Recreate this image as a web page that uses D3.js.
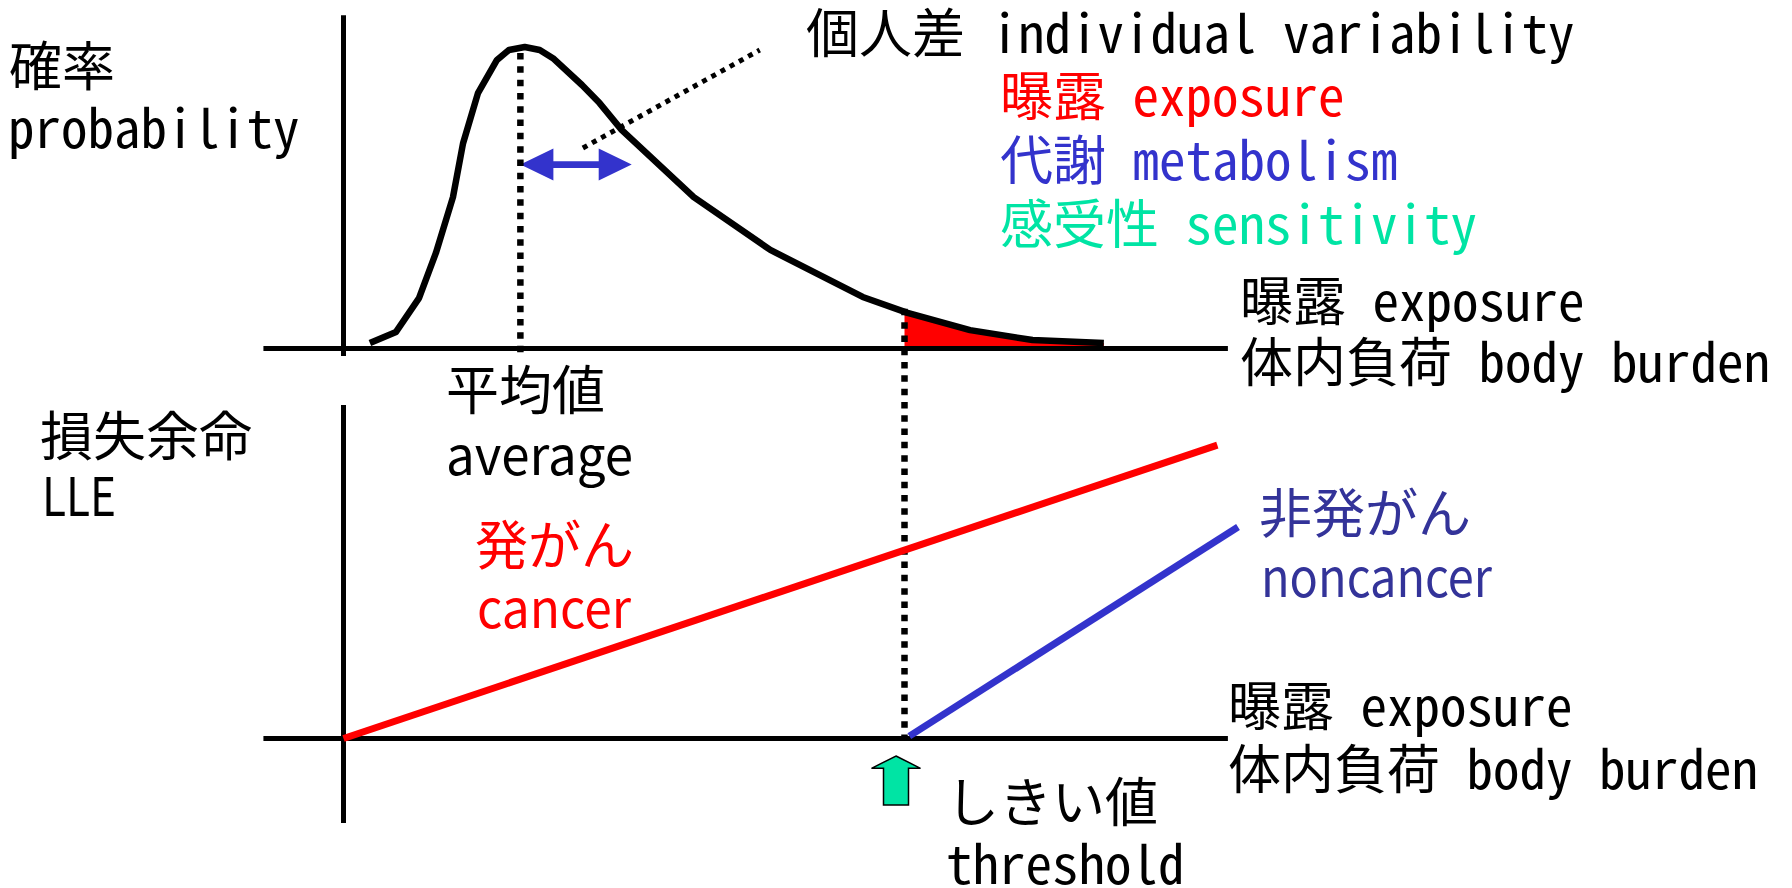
<!DOCTYPE html>
<meta charset="utf-8">
<style>
body { margin: 0; background: #fff; }
svg text { font-family: "Noto Sans CJK JP", sans-serif; font-size: 53px; }
svg text.mono { font-feature-settings: "hwid" 1; }
</style>
<svg width="1792" height="888"></svg>
<script src="https://d3js.org/d3.v7.min.js"></script>
<script>
// top panel: distribution of exposure / body burden
var distX = [3.0, 5.97, 8.58, 10.5, 12.44, 13.58, 15.28, 17.44, 18.8, 20.6, 22.3, 23.8,
             27.1, 29.1, 31.6, 39.8, 48.5, 59.0, 64.1, 71.2, 78.3, 86.4];
var distP = [0.018, 0.055, 0.167, 0.317, 0.502, 0.68, 0.847, 0.957, 0.99, 1.0, 0.99, 0.963,
             0.874, 0.814, 0.725, 0.502, 0.327, 0.171, 0.118, 0.061, 0.028, 0.018];
var meanX = 20.1;
var spreadX = [20.1, 32.75];   // individual variability arrow
var thresholdX = 63.75;

// bottom panel: loss of life expectancy
var cancerX = [0, 99.3], cancerLLE = [0, 97.8];
var noncancerX = [64.3, 101.65], noncancerLLE = [0.8, 70.5];

var red = "#ff0000", blue = "#3333cc", navy = "#333399", green = "#00e4a4";

var labels = [
  {t: "確率", x: 9, y: 86, mono: true},
  {t: "probability", x: 8, y: 148, mono: true},
  {t: "個人差 individual variability", x: 806, y: 53, mono: true},
  {t: "曝露 exposure", x: 1000, y: 116, mono: true, c: red},
  {t: "代謝 metabolism", x: 1000, y: 180, mono: true, c: blue},
  {t: "感受性 sensitivity", x: 1000, y: 244, mono: true, c: green},
  {t: "曝露 exposure", x: 1240, y: 321, mono: true},
  {t: "体内負荷 body burden", x: 1240, y: 382, mono: true},
  {t: "平均値", x: 446, y: 410},
  {t: "average", x: 446, y: 475, w: 187},
  {t: "損失余命", x: 40, y: 456},
  {t: "LLE", x: 42, y: 516, w: 74},
  {t: "発がん", x: 475, y: 565, c: red},
  {t: "cancer", x: 477, y: 628, c: red, w: 154},
  {t: "非発がん", x: 1259, y: 533, c: navy},
  {t: "noncancer", x: 1261, y: 597, c: navy, w: 231},
  {t: "曝露 exposure", x: 1228, y: 726, mono: true},
  {t: "体内負荷 body burden", x: 1228, y: 789, mono: true},
  {t: "しきい値", x: 946, y: 822, mono: true},
  {t: "threshold", x: 946, y: 884, mono: true}
];

var svg = d3.select("svg");

var x = d3.scaleLinear().domain([0, 100]).range([343.5, 1223.5]);
var yTop = d3.scaleLinear().domain([0, 1]).range([348.5, 47]);
var yBot = d3.scaleLinear().domain([0, 100]).range([738.5, 438.5]);

var dist = distX.map(function(d, i) { return [d, distP[i]]; });

// probability at threshold (on the drawn polyline)
var k = distX.findIndex(function(d) { return d > thresholdX; });
var t = (thresholdX - distX[k - 1]) / (distX[k] - distX[k - 1]);
var pThr = distP[k - 1] + t * (distP[k] - distP[k - 1]);

var tail = [[thresholdX, pThr]].concat(dist.filter(function(d) { return d[0] > thresholdX; }));

svg.append("path")
    .datum(tail)
    .attr("fill", red)
    .attr("d", d3.area()
      .x(function(d) { return x(d[0]); })
      .y0(yTop(0))
      .y1(function(d) { return yTop(d[1]); }));

// axes
var axes = svg.append("g").attr("stroke", "#000").attr("stroke-width", 5);
axes.append("line").attr("x1", x(-9.1)).attr("x2", x(100.5)).attr("y1", yTop(0)).attr("y2", yTop(0));
axes.append("line").attr("x1", x(0)).attr("x2", x(0)).attr("y1", yTop(1.105)).attr("y2", yTop(-0.025));
axes.append("line").attr("x1", x(-9.1)).attr("x2", x(100.5)).attr("y1", yBot(0)).attr("y2", yBot(0));
axes.append("line").attr("x1", x(0)).attr("x2", x(0)).attr("y1", yBot(111.2)).attr("y2", yBot(-28.2));

// distribution curve
svg.append("path")
    .datum(dist)
    .attr("fill", "none")
    .attr("stroke", "#000")
    .attr("stroke-width", 6.5)
    .attr("stroke-linejoin", "round")
    .attr("d", d3.line()
      .x(function(d) { return x(d[0]); })
      .y(function(d) { return yTop(d[1]); }));

// variability arrow
var xl = x(spreadX[0]), xr = x(spreadX[1]), ya = yTop(0.61);
var hl = 33, hh = 16, sh = 3.3;
svg.append("path")
    .attr("fill", blue)
    .attr("d", "M" + xl + "," + ya +
      "L" + (xl + hl) + "," + (ya - hh) + "L" + (xl + hl) + "," + (ya - sh) +
      "L" + (xr - hl) + "," + (ya - sh) + "L" + (xr - hl) + "," + (ya - hh) +
      "L" + xr + "," + ya +
      "L" + (xr - hl) + "," + (ya + hh) + "L" + (xr - hl) + "," + (ya + sh) +
      "L" + (xl + hl) + "," + (ya + sh) + "L" + (xl + hl) + "," + (ya + hh) + "Z");

// pointer to the variability label
svg.append("line")
    .attr("x1", x(27.2)).attr("y1", yTop(0.665))
    .attr("x2", x(47.3)).attr("y2", yTop(0.99))
    .attr("stroke", "#000").attr("stroke-width", 5)
    .attr("stroke-dasharray", "5 5.5");

// mean and threshold markers
var dots = svg.append("g").attr("stroke", "#000").attr("stroke-width", 6.5)
    .attr("stroke-dasharray", "6.5 6.8");
dots.append("line").attr("x1", x(meanX)).attr("x2", x(meanX))
    .attr("y1", yTop(0.98)).attr("y2", yTop(-0.022));
dots.append("line").attr("x1", x(thresholdX)).attr("x2", x(thresholdX))
    .attr("y1", yTop(pThr) - 3).attr("y2", yBot(0));

// LLE lines
svg.append("line")
    .attr("x1", x(cancerX[0])).attr("y1", yBot(cancerLLE[0]))
    .attr("x2", x(cancerX[1])).attr("y2", yBot(cancerLLE[1]))
    .attr("stroke", red).attr("stroke-width", 7);
svg.append("line")
    .attr("x1", x(noncancerX[0])).attr("y1", yBot(noncancerLLE[0]))
    .attr("x2", x(noncancerX[1])).attr("y2", yBot(noncancerLLE[1]))
    .attr("stroke", blue).attr("stroke-width", 7);

// threshold up-arrow
var ax = x(thresholdX) - 8.5;
svg.append("path")
    .attr("fill", green)
    .attr("stroke", "#000")
    .attr("stroke-width", 1.5)
    .attr("stroke-linejoin", "miter")
    .attr("d", "M" + ax + ",756 L" + (ax + 24.5) + ",768.3 L" + (ax + 12.5) + ",768.3 L" +
      (ax + 12.5) + ",805 L" + (ax - 12.5) + ",805 L" + (ax - 12.5) + ",768.3 L" +
      (ax - 24.5) + ",768.3 Z");

// text
svg.append("g").selectAll("text")
  .data(labels)
  .join("text")
    .attr("class", function(d) { return d.mono ? "mono" : null; })
    .attr("x", function(d) { return d.x; })
    .attr("y", function(d) { return d.y; })
    .attr("fill", function(d) { return d.c || "#000"; })
    .attr("textLength", function(d) { return d.w || null; })
    .attr("lengthAdjust", function(d) { return d.w ? "spacingAndGlyphs" : null; })
    .attr("xml:space", "preserve")
    .text(function(d) { return d.t; });
</script>
